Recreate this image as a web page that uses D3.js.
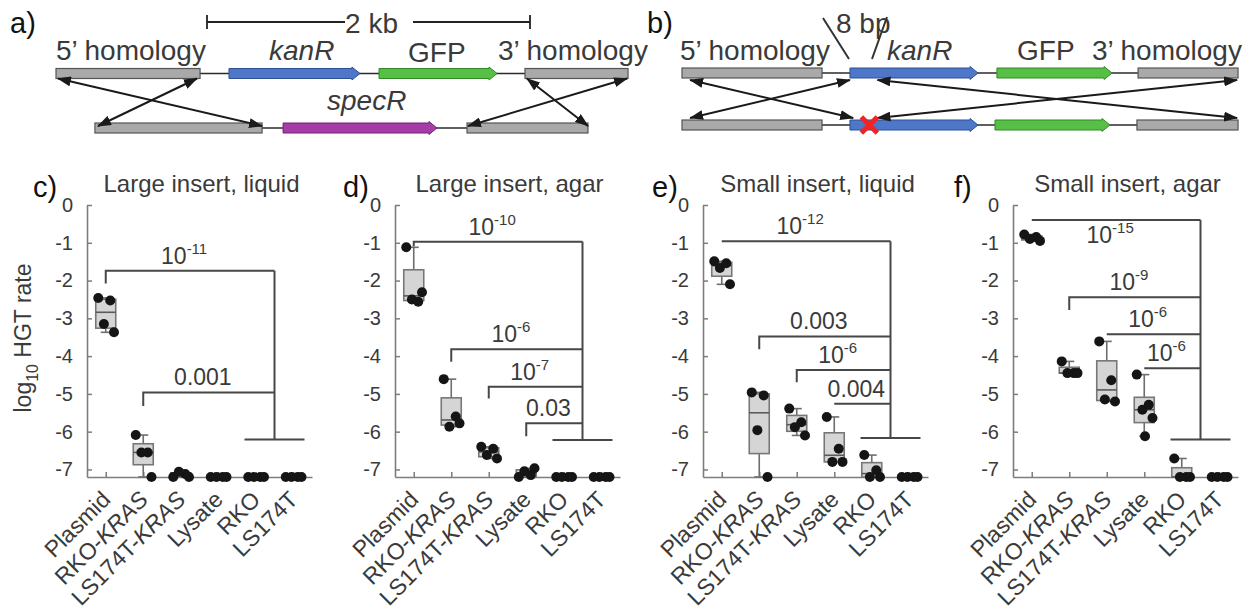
<!DOCTYPE html>
<html>
<head>
<meta charset="utf-8">
<script src="https://cdn.jsdelivr.net/npm/d3@7/dist/d3.min.js"></script>
<style>
  html, body { margin: 0; padding: 0; background: #fff; }
  svg { display: block; }
  text { font-family: "Liberation Sans", Arial, Helvetica, sans-serif; }
</style>
</head>
<body>
<svg id="fig" width="1255" height="616"></svg>
<script>
// ---------------- data ----------------
const categories = ["Plasmid", "RKO-KRAS", "LS174T-KRAS", "Lysate", "RKO", "LS174T"];
const yTicks = [0, -1, -2, -3, -4, -5, -6, -7];
const yFloor = -7.2;               // samples below the detection limit sit on the axis
const panelTitles = ["Large insert, liquid", "Large insert, agar", "Small insert, liquid", "Small insert, agar"];
const panelLetters = ["c)", "d)", "e)", "f)"];

// log10 HGT rate, one list of replicates per category
const largeLiquid = [
  [-2.46, -2.53, -3.15, -3.37],
  [-6.09, -6.55, -6.55, -7.2],
  [-7.2, -7.12, -7.06, -7.2],
  [-7.2, -7.2, -7.2, -7.2],
  [-7.2, -7.2, -7.2, -7.2],
  [-7.2, -7.2, -7.2, -7.2]
];
const largeAgar = [
  [-1.12, -2.56, -2.5, -2.31],
  [-4.61, -5.6, -5.87, -5.78],
  [-6.4, -6.45, -6.62, -6.71],
  [-7.2, -7.15, -7.05, -6.97],
  [-7.2, -7.2, -7.2, -7.2],
  [-7.2, -7.2, -7.2, -7.2]
];
const smallLiquid = [
  [-1.49, -1.54, -1.67, -2.1],
  [-4.96, -5.04, -5.96, -7.2],
  [-5.39, -5.75, -5.88, -6.1],
  [-5.61, -6.45, -6.8, -6.8],
  [-6.62, -7.02, -7.2, -7.2],
  [-7.2, -7.2, -7.2, -7.2]
];
const smallAgar = [
  [-0.78, -0.85, -0.9, -0.95],
  [-4.14, -4.45, -4.45, -4.45],
  [-3.61, -4.64, -5.15, -5.2],
  [-4.49, -5.29, -5.42, -5.64, -6.12],
  [-6.71, -7.2, -7.2, -7.2],
  [-7.2, -7.2, -7.2, -7.2]
];

// significance brackets: [category index, bracket level, leg end, p-value]
const bracketsLargeLiquid = [[0, -1.74, -2.08, "10^-11"], [1, -4.96, -5.32, "0.001"]];
const bracketsLargeAgar = [[0, -0.97, -1.1, "10^-10"], [1, -3.82, -4.15, "10^-6"], [2, -4.81, -5.12, "10^-7"], [3, -5.78, -6.12, "0.03"]];
const bracketsSmallLiquid = [[0, -0.96, -0.96, "10^-12"], [1, -3.48, -3.82, "0.003"], [2, -4.37, -4.69, "10^-6"], [3, -5.26, -5.26, "0.004"]];
const bracketsSmallAgar = [[0, -0.4, -0.4, "10^-15", "below"], [1, -2.44, -2.78, "10^-9"], [2, -3.42, -3.42, "10^-6"], [3, -4.32, -4.32, "10^-6"]];
// level of the bar joining the two control lines (RKO, LS174T)
const controlLevels = [-6.21, -6.22, -6.17, -6.21];

// construct maps (positions in kb from the left end of each construct)
const plasmidRowA = [["homology", 0, 0.892], ["kanR", 1.071, 1.882], ["GFP", 2.0, 2.731], ["homology", 2.904, 3.542]];
const genomeRowA  = [["homology", 0.241, 1.276], ["specR", 1.406, 2.359], ["homology", 2.545, 3.294]];
const plasmidRowB = [["homology", 0, 0.867], ["kanR", 1.04, 1.833], ["GFP", 1.95, 2.663], ["homology", 2.824, 3.443]];
const genomeRowB  = [["homology", 0, 0.867], ["kanR", 1.04, 1.833], ["GFP", 1.938, 2.65], ["homology", 2.817, 3.443]];
// recombination arrows: [kb on upper construct, kb on lower construct]
const crossoversA = [[0.012, 1.276], [0.873, 0.26], [2.916, 3.294], [3.536, 2.551]];
const crossoversB = [[0.05, 1.06], [1.04, 0.05], [1.21, 3.437], [3.437, 1.21]];
const scaleBarKb = 2;

// ---------------- drawing ----------------
const INK = "#3a3a3a";
const AXIS = "#7d7d7d";
const svg = d3.select("#fig");

const geneColors = { kanR: ["#4f77c8", "#2f4f95"], GFP: ["#57bf45", "#2f8a25"], specR: ["#a53ca8", "#6f1f72"] };
const kb = d3.scaleLinear().domain([0, 1]).range([0, 161.5]);

const defs = svg.append("defs");
defs.append("marker")
  .attr("id", "head")
  .attr("viewBox", "0 0 14 10")
  .attr("refX", 13).attr("refY", 5)
  .attr("markerWidth", 14).attr("markerHeight", 10)
  .attr("markerUnits", "userSpaceOnUse")
  .attr("orient", "auto-start-reverse")
  .append("path").attr("d", "M0,0 L14,5 L0,10 Z").attr("fill", "#1a1a1a");

function drawRow(g, x0, yc, row) {
  const first = d3.min(row, d => d[1]), last = d3.max(row, d => d[2]);
  g.append("line")
    .attr("x1", x0 + kb(first)).attr("x2", x0 + kb(last))
    .attr("y1", yc).attr("y2", yc)
    .attr("stroke", "#2a2a2a").attr("stroke-width", 1.6);
  row.forEach(([kind, s, e]) => {
    const xs = x0 + kb(s), xe = x0 + kb(e);
    if (kind === "homology") {
      g.append("rect").attr("x", xs).attr("y", yc - 5).attr("width", xe - xs).attr("height", 10)
        .attr("fill", "#a9a9a9").attr("stroke", "#555").attr("stroke-width", 1.2);
    } else {
      const [fill, stroke] = geneColors[kind];
      const head = 8;
      const pts = [[xs, yc - 5], [xe - head, yc - 5], [xe - head, yc - 6.5], [xe, yc], [xe - head, yc + 6.5], [xe - head, yc + 5], [xs, yc + 5]];
      g.append("path").attr("d", d3.line()(pts) + "Z")
        .attr("fill", fill).attr("stroke", stroke).attr("stroke-width", 1);
    }
  });
}

function drawCrossovers(g, x0, yTopTip, yBotTip, pairs) {
  pairs.forEach(([a, b]) => {
    g.append("line")
      .attr("x1", x0 + kb(a)).attr("y1", yTopTip)
      .attr("x2", x0 + kb(b)).attr("y2", yBotTip)
      .attr("stroke", "#1a1a1a").attr("stroke-width", 2)
      .attr("marker-start", "url(#head)").attr("marker-end", "url(#head)");
  });
}

function label(g, x, y, txt, opts = {}) {
  return g.append("text").attr("x", x).attr("y", y)
    .attr("font-size", opts.size || 28)
    .attr("font-style", opts.italic ? "italic" : null)
    .attr("text-anchor", opts.anchor || "start")
    .attr("fill", opts.fill || INK)
    .text(txt);
}

function panelLetter(x, y, txt) {
  svg.append("text").attr("x", x).attr("y", y)
    .attr("font-family", "'Liberation Serif', 'Times New Roman', serif")
    .attr("font-size", 29).attr("fill", "#111").text(txt);
}

// ---- panel a: large insert replacing the genomic specR cassette ----
{
  const g = svg.append("g");
  const x0 = 56;
  panelLetter(10, 33, "a)");
  // scale bar
  const sbL = 207, sbR = sbL + kb(scaleBarKb), sbY = 22;
  g.append("path")
    .attr("d", `M${sbL},${sbY - 7}V${sbY + 7}M${sbL},${sbY}H${sbL + 138}M${sbR - 117},${sbY}H${sbR}M${sbR},${sbY - 7}V${sbY + 7}`)
    .attr("stroke", "#222").attr("stroke-width", 1.8).attr("fill", "none");
  label(g, (sbL + sbR) / 2 + 3, 33, scaleBarKb + " kb", { anchor: "middle" });
  label(g, 56, 60, "5\u2019 homology");
  label(g, 269, 60, "kanR", { italic: true });
  label(g, 408, 62, "GFP");
  label(g, 498, 60, "3\u2019 homology");
  label(g, 327, 110, "specR", { italic: true });
  drawRow(g, x0, 73.5, plasmidRowA);
  drawRow(g, x0, 128, genomeRowA);
  drawCrossovers(g, x0, 78.5, 126, crossoversA);
}

// ---- panel b: small insert, 8 bp deletion in kanR ----
{
  const g = svg.append("g");
  const x0 = 682;
  panelLetter(647, 33, "b)");
  label(g, 680, 60, "5\u2019 homology");
  label(g, 836, 33, "8 bp");
  label(g, 887, 60, "kanR", { italic: true });
  label(g, 1017, 60, "GFP");
  label(g, 1092, 60, "3\u2019 homology");
  g.append("path").attr("d", "M823,18L849,59M887,17L872,59")
    .attr("stroke", "#333").attr("stroke-width", 2).attr("fill", "none");
  drawRow(g, x0, 73, plasmidRowB);
  drawRow(g, x0, 125, genomeRowB);
  drawCrossovers(g, x0, 80, 118, crossoversB);
  // knocked-out site
  const cx = x0 + kb(1.16), cy = 125, s = 8;
  g.append("path").attr("d", `M${cx - s},${cy - s}L${cx + s},${cy + s}M${cx + s},${cy - s}L${cx - s},${cy + s}`)
    .attr("stroke", "#f02424").attr("stroke-width", 5).attr("stroke-linecap", "butt");
}

// ---- panels c–f: box plots of HGT rates ----
const panelData = [largeLiquid, largeAgar, smallLiquid, smallAgar];
const panelBrackets = [bracketsLargeLiquid, bracketsLargeAgar, bracketsSmallLiquid, bracketsSmallAgar];
const panelLeft = [87, 395, 703, 1013];
const plotW = 225, yTop = 205, yBottom = 477;
const jitter = [-0.2, 0.12, -0.05, 0.22, 0.02];

// percentile as used by MATLAB's boxplot
function prctile(sorted, p) {
  const n = sorted.length, pos = n * p / 100 + 0.5;
  if (pos <= 1) return sorted[0];
  if (pos >= n) return sorted[n - 1];
  const i = Math.floor(pos), f = pos - i;
  return sorted[i - 1] + f * (sorted[i] - sorted[i - 1]);
}

function pLabel(g, x, y, str) {
  const [base, exp] = str.split("^");
  const t = g.append("text").attr("x", x).attr("y", y)
    .attr("text-anchor", "middle").attr("font-size", 23).attr("fill", INK);
  t.append("tspan").text(base);
  if (exp) t.append("tspan").attr("dy", -10).attr("font-size", 15).text(exp);
}

function categoryLabel(g, x, y, name) {
  const t = g.append("text").attr("transform", `translate(${x},${y}) rotate(-45)`)
    .attr("text-anchor", "end").attr("font-size", 23).attr("fill", INK);
  const m = name.match(/^(.*-)(KRAS)$/);
  if (m) {
    t.append("tspan").text(m[1]);
    t.append("tspan").attr("font-style", "italic").text(m[2]);
  } else {
    t.text(name);
  }
}

panelData.forEach((data, pi) => {
  const g = svg.append("g");
  const x = d3.scalePoint().domain(categories)
    .range([panelLeft[pi], panelLeft[pi] + plotW]).padding(0.5);
  const y = d3.scaleLinear().domain([yFloor, 0]).range([yBottom, yTop]);
  const step = x.step();

  // axes, MATLAB style with inward ticks
  const ya = g.append("g").attr("transform", `translate(${panelLeft[pi]},0)`)
    .call(d3.axisLeft(y).tickValues(yTicks).tickFormat(d => String(d))
      .tickSizeInner(-5).tickSizeOuter(0).tickPadding(14));
  const xa = g.append("g").attr("transform", `translate(0,${yBottom})`)
    .call(d3.axisBottom(x).tickFormat("").tickSizeInner(-5).tickSizeOuter(0));
  [ya, xa].forEach(a => {
    a.attr("font-size", null).attr("font-family", null);
    a.select(".domain").attr("stroke", AXIS).attr("stroke-width", 1.6);
    a.selectAll(".tick line").attr("stroke", AXIS).attr("stroke-width", 1.5);
  });
  ya.selectAll(".tick text").attr("font-size", 20).attr("fill", INK);

  categories.forEach(c => categoryLabel(g, x(c) + 6, yBottom + 24, c));

  // title and panel letter
  g.append("text").attr("x", panelLeft[pi] + plotW / 2 + 2).attr("y", 192)
    .attr("text-anchor", "middle").attr("font-size", 24).attr("fill", INK)
    .text(panelTitles[pi]);
  panelLetter([33, 343, 652, 954][pi], 197, panelLetters[pi]);

  // significance brackets against the pooled controls
  const brackets = panelBrackets[pi];
  const vx = (x("RKO") + x("LS174T")) / 2;
  const lineAttrs = sel => sel.attr("stroke", "#474747").attr("stroke-width", 2).attr("fill", "none");
  const topLevel = d3.max(brackets, b => b[1]);
  lineAttrs(g.append("line").attr("x1", vx).attr("x2", vx)
    .attr("y1", y(topLevel)).attr("y2", y(controlLevels[pi])));
  lineAttrs(g.append("line")
    .attr("x1", x("RKO") - 0.3 * step).attr("x2", x("LS174T") + 0.3 * step)
    .attr("y1", y(controlLevels[pi])).attr("y2", y(controlLevels[pi])));
  brackets.forEach(([ci, level, legEnd, p, where]) => {
    const xs = x(categories[ci]);
    lineAttrs(g.append("path")
      .attr("d", `M${xs},${y(legEnd)}V${y(level)}H${vx}`));
    const lx = (xs + vx) / 2 - 6;
    pLabel(g, lx, where === "below" ? y(level) + 23 : y(level) - 7, p);
  });

  // boxes
  const boxW = 20, capW = 10;
  data.forEach((vals, ci) => {
    const cx = x(categories[ci]);
    const s = vals.slice().sort(d3.ascending);
    const q1 = prctile(s, 25), med = prctile(s, 50), q3 = prctile(s, 75);
    const iqr = q3 - q1;
    const lo = d3.min(s.filter(v => v >= q1 - 1.5 * iqr));
    const hi = d3.max(s.filter(v => v <= q3 + 1.5 * iqr));
    const wh = g.append("g").attr("stroke", "#6e6e6e").attr("stroke-width", 1.6);
    if (hi > q3) {
      wh.append("line").attr("x1", cx).attr("x2", cx).attr("y1", y(q3)).attr("y2", y(hi));
      wh.append("line").attr("x1", cx - capW / 2).attr("x2", cx + capW / 2).attr("y1", y(hi)).attr("y2", y(hi));
    }
    if (lo < q1) {
      wh.append("line").attr("x1", cx).attr("x2", cx).attr("y1", y(q1)).attr("y2", y(lo));
      wh.append("line").attr("x1", cx - capW / 2).attr("x2", cx + capW / 2).attr("y1", y(lo)).attr("y2", y(lo));
    }
    if (q3 > q1) {
      g.append("rect").attr("x", cx - boxW / 2).attr("y", y(q3))
        .attr("width", boxW).attr("height", y(q1) - y(q3))
        .attr("fill", "#d5d5d5").attr("stroke", "#777").attr("stroke-width", 1.6);
      g.append("line").attr("x1", cx - boxW / 2).attr("x2", cx + boxW / 2)
        .attr("y1", y(med)).attr("y2", y(med))
        .attr("stroke", "#5a5a5a").attr("stroke-width", 1.6);
    }
  });

  // replicate points
  data.forEach((vals, ci) => {
    const cx = x(categories[ci]);
    g.selectAll(null).data(vals).enter().append("circle")
      .attr("cx", (d, i) => cx + jitter[i % jitter.length] * step)
      .attr("cy", d => y(d))
      .attr("r", 5)
      .attr("fill", "#151515");
  });
});

// shared y-axis label
{
  const t = svg.append("text")
    .attr("transform", "translate(31,338) rotate(-90)")
    .attr("text-anchor", "middle").attr("font-size", 23).attr("fill", INK);
  t.append("tspan").text("log");
  t.append("tspan").attr("dy", 7).attr("font-size", 16).text("10");
  t.append("tspan").attr("dy", -7).text(" HGT rate");
}
</script>
</body>
</html>
